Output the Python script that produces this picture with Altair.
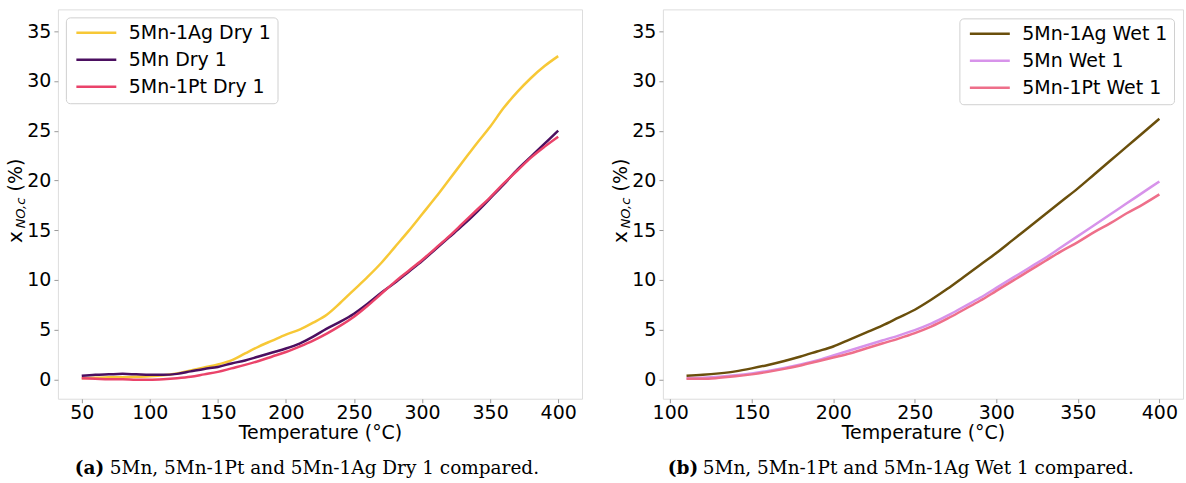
import altair as alt
import pandas as pd

# ---------------- data ----------------
T_dry = [50, 60, 70, 80, 90, 100, 110, 120, 130, 140, 150, 160, 170, 180, 190, 200,
         210, 220, 230, 240, 250, 260, 270, 280, 290, 300, 310, 320, 330, 340, 350,
         360, 370, 380, 390, 400]
dry_ag = [0.1, 0.15, 0.2, 0.2, 0.25, 0.3, 0.4, 0.6, 0.9, 1.2, 1.5, 1.9, 2.6, 3.3, 3.9, 4.5,
          5.0, 5.7, 6.5, 7.7, 9.0, 10.3, 11.7, 13.3, 14.9, 16.6, 18.3, 20.1, 21.9, 23.7, 25.4,
          27.3, 28.9, 30.3, 31.5, 32.5]
dry_mn = [0.35, 0.45, 0.5, 0.55, 0.5, 0.45, 0.45, 0.55, 0.8, 1.05, 1.25, 1.6, 1.9, 2.3, 2.7, 3.1,
          3.6, 4.3, 5.1, 5.8, 6.6, 7.6, 8.7, 9.7, 10.8, 11.9, 13.1, 14.3, 15.5, 16.8, 18.2,
          19.6, 21.1, 22.4, 23.7, 25.0]
dry_pt = [0.1, 0.05, 0.0, 0.0, -0.05, -0.05, 0.0, 0.1, 0.25, 0.5, 0.75, 1.1, 1.45, 1.85, 2.3, 2.75,
          3.3, 3.9, 4.6, 5.4, 6.3, 7.4, 8.6, 9.8, 10.9, 12.0, 13.2, 14.4, 15.7, 17.0, 18.3,
          19.7, 21.0, 22.3, 23.4, 24.4]

T_wet = [110, 120, 130, 140, 150, 160, 170, 180, 190, 200, 210, 220, 230, 240, 250, 260,
         270, 280, 290, 300, 310, 320, 330, 340, 350, 360, 370, 380, 390, 400]
wet_ag = [0.35, 0.45, 0.6, 0.8, 1.1, 1.45, 1.85, 2.3, 2.8, 3.3, 4.0, 4.7, 5.4, 6.2, 7.0, 8.0,
          9.1, 10.3, 11.5, 12.7, 14.0, 15.3, 16.6, 17.9, 19.2, 20.6, 22.0, 23.4, 24.8, 26.2]
wet_mn = [0.1, 0.15, 0.25, 0.4, 0.6, 0.85, 1.15, 1.5, 1.9, 2.4, 2.9, 3.4, 3.9, 4.4, 4.95, 5.6,
          6.4, 7.3, 8.2, 9.2, 10.2, 11.2, 12.2, 13.3, 14.4, 15.5, 16.6, 17.7, 18.8, 19.9]
wet_pt = [0.05, 0.05, 0.15, 0.3, 0.5, 0.75, 1.05, 1.4, 1.8, 2.2, 2.6, 3.1, 3.6, 4.1, 4.65, 5.3,
          6.1, 7.0, 7.9, 8.9, 9.9, 10.9, 11.9, 12.9, 13.8, 14.8, 15.7, 16.7, 17.6, 18.6]

dry_names = ["5Mn-1Ag Dry 1", "5Mn Dry 1", "5Mn-1Pt Dry 1"]
dry_colors = ["#f7c836", "#4b0f60", "#ea436a"]
wet_names = ["5Mn-1Ag Wet 1", "5Mn Wet 1", "5Mn-1Pt Wet 1"]
wet_colors = ["#6a4f0c", "#d793ea", "#ee6f8a"]

x_ticks_dry = [50, 100, 150, 200, 250, 300, 350, 400]
x_ticks_wet = [100, 150, 200, 250, 300, 350, 400]
y_ticks = [0, 5, 10, 15, 20, 25, 30, 35]

caption_a = ["(a)", "5Mn, 5Mn-1Pt and 5Mn-1Ag Dry 1 compared."]
caption_b = ["(b)", "5Mn, 5Mn-1Pt and 5Mn-1Ag Wet 1 compared."]

# ---------------- build ----------------
def long_df(T, series, names):
    rows = []
    for i, (vals, nm) in enumerate(zip(series, names)):
        for t, v in zip(T, vals):
            rows.append({"T": t, "v": v, "series": nm, "k": i})
    return pd.DataFrame(rows)

df_dry = long_df(T_dry, [dry_ag, dry_mn, dry_pt], dry_names)
df_wet = long_df(T_wet, [wet_ag, wet_mn, wet_pt], wet_names)

W1, W2, H = 525, 521, 390
FONT = "DejaVu Sans"
GRAY = "#9a9a9a"
FS = 19
one = pd.DataFrame({"a": [0]})

# wide line sample (40 px) on a small symbol size, so rows stay compact
SAMPLE = "M-1,0H7"


def panel(df, names, colors, xdom, xticks, W, orient, loff, cap):
    lines = alt.Chart(df).mark_line(strokeWidth=2.5, interpolate="monotone").encode(
        x=alt.X("T:Q", scale=alt.Scale(domain=xdom, nice=False, zero=False),
                axis=alt.Axis(values=xticks, title="Temperature (°C)", grid=False, domain=False,
                              tickColor=GRAY, tickSize=4, labelFontSize=FS, labelFont=FONT,
                              labelColor="black", labelPadding=1, titleFontSize=FS,
                              titleFont=FONT, titleFontWeight="normal", titleColor="black",
                              titlePadding=1)),
        y=alt.Y("v:Q", scale=alt.Scale(domain=[-1.95, 37.2], nice=False, zero=False),
                axis=alt.Axis(values=y_ticks, title=None, grid=False, domain=False,
                              tickColor=GRAY, tickSize=4, labelFontSize=FS, labelFont=FONT,
                              labelColor="black", labelPadding=3)),
        color=alt.Color("series:N", scale=alt.Scale(domain=names, range=colors),
                        legend=alt.Legend(title=None, orient=orient, offset=loff,
                                          symbolType=SAMPLE, symbolSize=100,
                                          symbolStrokeWidth=2.5, labelFontSize=FS,
                                          labelFont=FONT, labelColor="black",
                                          labelOffset=38, rowPadding=7, padding=6,
                                          fillColor="white", strokeColor="#d0d0d0",
                                          cornerRadius=4)),
        order=alt.Order("k:Q"),
    )
    tx = alt.Chart(one).mark_text(text="x", angle=270, fontSize=20, font=FONT,
                                  align="center", baseline="middle").encode(
        x=alt.value(-42), y=alt.value(228))
    sub = alt.Chart(one).mark_text(text="NO,c", angle=270, fontSize=13, font=FONT,
                                   fontStyle="italic", align="center", baseline="middle").encode(
        x=alt.value(-37), y=alt.value(204))
    pc = alt.Chart(one).mark_text(text="(%)", angle=270, fontSize=19, font=FONT,
                                  align="center", baseline="middle").encode(
        x=alt.value(-42), y=alt.value(166))
    c1 = alt.Chart(one).mark_text(text=cap[0], fontSize=18.5, font="DejaVu Serif",
                                  fontWeight="bold", align="left", baseline="middle").encode(
        x=alt.value(cap[2]), y=alt.value(459))
    c2 = alt.Chart(one).mark_text(text=cap[1], fontSize=18.5, font="DejaVu Serif",
                                  align="left", baseline="middle").encode(
        x=alt.value(cap[2] + 35), y=alt.value(459))
    return alt.layer(lines, tx, sub, pc, c1, c2).properties(width=W, height=H)


left = panel(df_dry, dry_names, dry_colors, [32.5, 417.5], x_ticks_dry, W1, "top-left", 8,
             caption_a + [17])
right = panel(df_wet, wet_names, wet_colors, [95.5, 414.5], x_ticks_wet, W2, "top-right", 9,
              caption_b + [5])

chart = alt.hconcat(left, right, spacing=27).resolve_scale(color="independent").properties(
    padding={"left": 5, "top": 8, "right": 2, "bottom": 2}
).configure_view(stroke=GRAY, strokeWidth=1.2).configure(background="white")

chart.save("out.html", embed_options={"renderer": "svg", "actions": False})
